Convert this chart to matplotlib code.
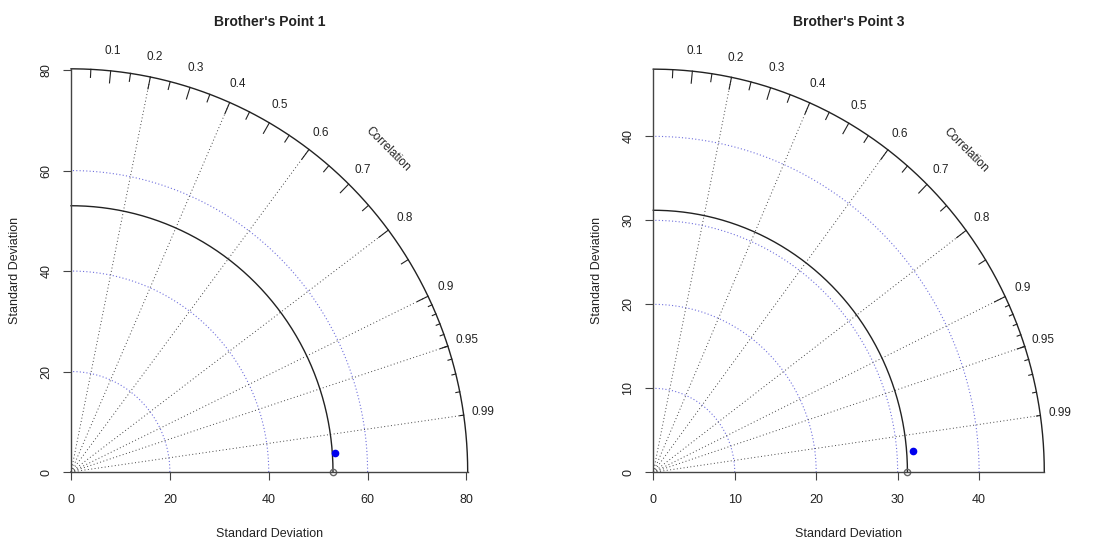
import numpy as np
import matplotlib
matplotlib.use("Agg")
import matplotlib.pyplot as plt

plt.rcParams['font.family'] = ['Liberation Sans', 'DejaVu Sans']

# chart data
titles = ["Brother's Point 1", "Brother's Point 3"]
ref_sd = [53.0, 31.2]          # observed standard deviation (black arc)
model_sd = [53.5, 32.0]        # model standard deviation (blue dot)
model_cor = [0.9975, 0.9969]   # model correlation
sd_ticks = [[0, 20, 40, 60, 80], [0, 10, 20, 30, 40]]
sd_arcs = [[20, 40, 60], [10, 20, 30, 40]]
corr_lines = [0.2, 0.4, 0.6, 0.8, 0.9, 0.95, 0.99]
corr_labels = [0.1, 0.2, 0.3, 0.4, 0.5, 0.6, 0.7, 0.8, 0.9, 0.95, 0.99]

boxes = [[0.0641, 0.1243, 0.3580, 0.7480],
         [0.5896, 0.1237, 0.3529, 0.7480]]

txt = '#222222'


def taylor(ax, title, sd_r, sd_m, cor_m, ticks, arcs):
    maxsd = 1.5 * max(sd_r, sd_m)
    ax.set_xlim(0, maxsd)
    ax.set_ylim(0, maxsd)

    # axes like R's axis(): only left and bottom
    for s in ['top', 'right']:
        ax.spines[s].set_visible(False)
    for s in ['left', 'bottom']:
        ax.spines[s].set_color('#444444')
        ax.spines[s].set_linewidth(1.0)
    ax.spines['left'].set_bounds(0, maxsd)
    ax.spines['bottom'].set_bounds(0, maxsd)
    ax.set_xticks(ticks)
    ax.set_yticks(ticks)
    ax.tick_params(length=5.5, width=0.8, color='#444444', labelsize=9,
                   labelcolor=txt)
    ax.tick_params(axis='x', pad=10)
    ax.tick_params(axis='y', pad=8, labelrotation=90)
    for lbl in ax.get_yticklabels():
        lbl.set_va('center')
    ax.set_xlabel('Standard Deviation', fontsize=9, color=txt, labelpad=16)
    ax.set_ylabel('Standard Deviation', fontsize=9, color=txt, labelpad=14)
    ax.set_title(title, fontsize=10, fontweight='bold', color=txt, pad=31)

    th = np.linspace(0, np.pi / 2, 200)

    # sd arcs (blue dotted)
    for r in arcs:
        ax.plot(r * np.cos(th), r * np.sin(th), color='#7070dd', lw=0.8,
                ls=(0, (1, 2)), clip_on=False)

    # correlation radial lines
    for c in corr_lines:
        a = np.arccos(c)
        ax.plot([0, maxsd * np.cos(a)], [0, maxsd * np.sin(a)],
                color='#444444', lw=0.7, ls=(0, (1, 2.5)), clip_on=False)

    # outer arc
    ax.plot(maxsd * np.cos(th), maxsd * np.sin(th), color='#222222',
            lw=1.0, clip_on=False)

    # ticks on the outer arc
    for vals, f in [(np.arange(0.1, 0.91, 0.1), 0.97),
                    (np.arange(0.05, 0.96, 0.1), 0.98),
                    (np.arange(0.91, 0.995, 0.01), 0.99)]:
        a = np.arccos(vals)
        for ai in a:
            ax.plot([maxsd * np.cos(ai), f * maxsd * np.cos(ai)],
                    [maxsd * np.sin(ai), f * maxsd * np.sin(ai)],
                    color='#222222', lw=0.8, clip_on=False)

    # correlation labels
    for c in corr_labels:
        a = np.arccos(c)
        ax.text(1.05 * maxsd * np.cos(a), 1.05 * maxsd * np.sin(a),
                '%g' % c, fontsize=8.5, color=txt, ha='center', va='center')
    ax.text(0.8 * maxsd, 0.8 * maxsd, 'Correlation', fontsize=8.5, color=txt,
            rotation=-45, ha='center', va='center', rotation_mode='anchor')

    # reference sd arc and point
    ax.plot(sd_r * np.cos(th), sd_r * np.sin(th), color='#222222', lw=1.0,
            clip_on=False)
    ax.plot([sd_r], [0], 'o', ms=4.5, mfc='none', mec='#666666', mew=1.0,
            clip_on=False)

    # model point
    a = np.arccos(cor_m)
    ax.plot([sd_m * np.cos(a)], [sd_m * np.sin(a)], 'o', ms=4.5,
            color='#0000ee', clip_on=False)


fig = plt.figure(figsize=(11.08, 5.39), dpi=100)
for i in range(2):
    ax = fig.add_axes(boxes[i])
    taylor(ax, titles[i], ref_sd[i], model_sd[i], model_cor[i],
           sd_ticks[i], sd_arcs[i])

fig.savefig('out.png', dpi=100, facecolor='white')
